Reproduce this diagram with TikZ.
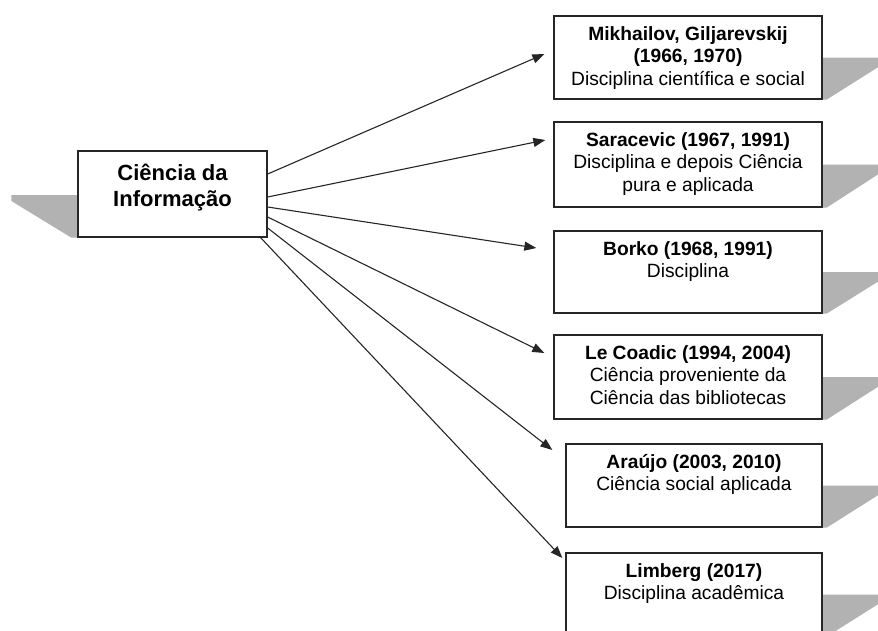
\documentclass[tikz,border=0pt]{standalone}
\usepackage{fontspec}
\setmainfont{Liberation Sans}
\usetikzlibrary{arrows.meta,calc}

\begin{document}
\begin{tikzpicture}[x=1pt,y=-1pt,
  box/.style={draw=black!85, line width=1.3pt, fill=white, rectangle, inner sep=0pt},
  shade/.style={fill=black!30, draw=none},
  arr/.style={draw=black!85, line width=1.1pt, -{Triangle[length=12pt,width=9pt]}},
  lbl/.style={font=\fontsize{19.2}{22.5}\selectfont, align=center, anchor=north, inner sep=0pt},
  mainlbl/.style={font=\fontsize{22}{26}\selectfont\bfseries, align=center, anchor=north, inner sep=0pt}]
\useasboundingbox (0,0) rectangle (878,630);
\clip (0,0) rectangle (878,630);

% central box and its shadow
\node[box, minimum width=189pt, minimum height=86pt] (ci) at (172.5,194) {};
\fill[shade] ($(ci.west)+(0,1)$) -- ++(-66,0) -- ++(0,6) -- ($(ci.south west)+(-6,0)$) -- (ci.south west) -- cycle;
\node[box, minimum width=189pt, minimum height=86pt] at (ci) {};
\node[mainlbl] (cit) at (172.5,162.2) {\strut Ciência da\\Informação};

% author boxes
\node[box, minimum width=268pt, minimum height=83pt] (b1) at (688,57.5) {};
\node[box, minimum width=268pt, minimum height=85pt] (b2) at (688,164.5) {};
\node[box, minimum width=268pt, minimum height=82pt] (b3) at (688,272) {};
\node[box, minimum width=268pt, minimum height=84pt] (b4) at (688,377) {};
\node[box, minimum width=256pt, minimum height=83pt] (b5) at (694,485.5) {};
\node[box, minimum width=256pt, minimum height=83pt] (b6) at (694,594.5) {};

% perspective shadows to the right
\foreach \b in {b1,b2,b3,b4,b5,b6}{
  \fill[shade] (\b.east) -- ++(66,0) -- ++(0,3) -- ($(\b.south east)+(4,0)$) -- (\b.south east) -- cycle;
  \draw[line width=1.3pt, draw=black!85] (\b.north east) -- (\b.south east);
}

% box texts
\node[lbl] (t1) at ($(b1.north)+(0,9)$) {\strut\textbf{Mikhailov, Giljarevskij}\\\textbf{(1966, 1970)}\\Disciplina científica e social};
\node[lbl] (t2) at ($(b2.north)+(0,9)$) {\strut\textbf{Saracevic (1967, 1991)}\\Disciplina e depois Ciência\\pura e aplicada};
\node[lbl] (t3) at ($(b3.north)+(0,9)$) {\strut\textbf{Borko (1968, 1991)}\\Disciplina};
\node[lbl] (t4) at ($(b4.north)+(0,9)$) {\strut\textbf{Le Coadic (1994, 2004)}\\Ciência proveniente da\\Ciência das bibliotecas};
\node[lbl] (t5) at ($(b5.north)+(0,9)$) {\strut\textbf{Araújo (2003, 2010)}\\Ciência social aplicada};
\node[lbl] (t6) at ($(b6.north)+(0,9)$) {\strut\textbf{Limberg (2017)}\\Disciplina acadêmica};

% connectors
\draw[arr] ($(ci.east)+(0,-20)$) -- ($(b1.west)+(-9,-3.5)$);
\draw[arr] ($(ci.east)+(0,3)$) -- ($(b2.west)+(-8,-24.5)$);
\draw[arr] ($(ci.east)+(0,13)$) -- ($(b3.west)+(-17,-24)$);
\draw[arr] ($(ci.east)+(0,23)$) -- ($(b4.west)+(-9,-24)$);
\draw[arr] ($(ci.east)+(0,34)$) -- ($(b5.west)+(-13,-35.5)$);
\draw[arr] ($(ci.south east)+(-7,0)$) -- ($(b6.west)+(-3,-36.5)$);
\end{tikzpicture}
\end{document}
